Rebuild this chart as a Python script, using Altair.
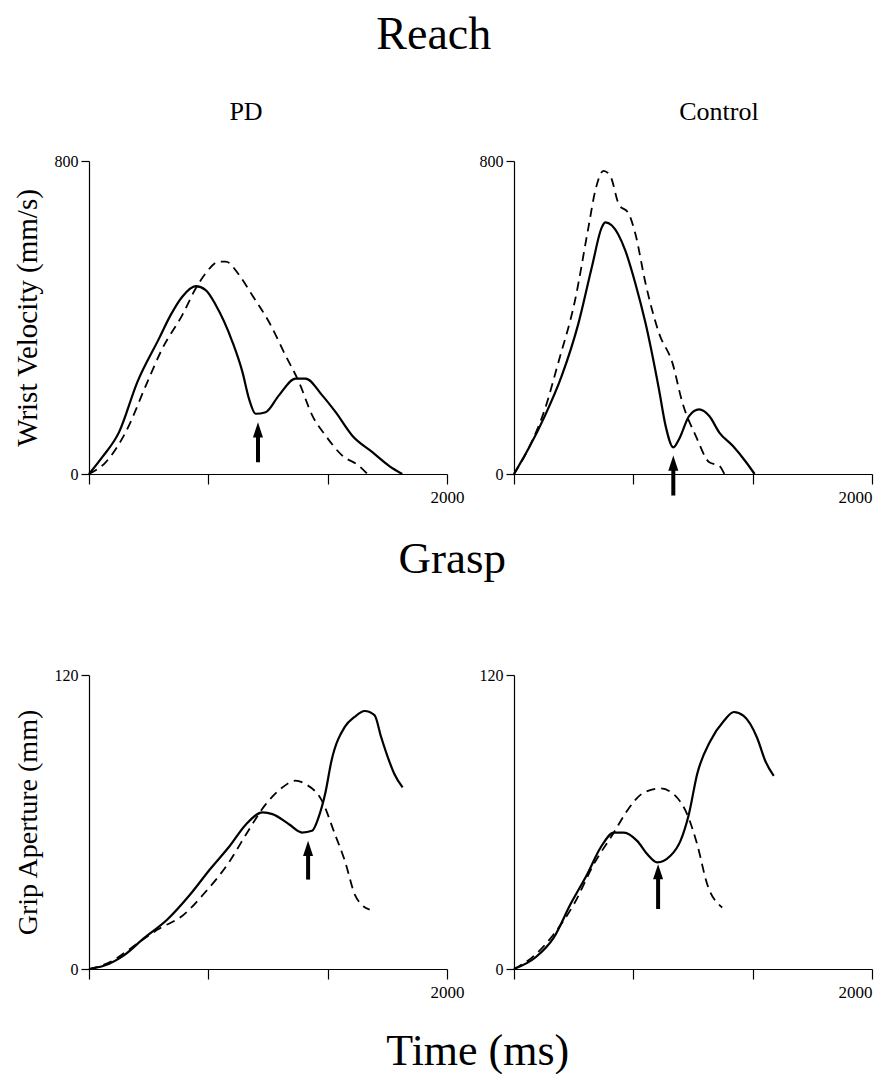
import altair as alt
import pandas as pd

# ---------------- data ----------------
# Reach, PD
pd_reach_solid_t = [0, 74, 168, 270, 391, 456, 521, 596, 652, 708, 801, 857, 894, 931, 987, 1061, 1154, 1210, 1303, 1378, 1471, 1583, 1676, 1750]
pd_reach_solid_v = [0, 43, 107, 235, 346, 406, 453, 480, 470, 432, 338, 261, 192, 154, 158, 201, 244, 244, 201, 158, 98, 56, 21, 0]
pd_reach_dash_t = [0, 93, 205, 326, 410, 521, 596, 652, 726, 764, 838, 912, 1005, 1098, 1173, 1247, 1322, 1415, 1508, 1555]
pd_reach_dash_v = [0, 30, 107, 235, 321, 406, 474, 513, 543, 543, 509, 457, 389, 303, 235, 150, 98, 47, 21, 0]

# Reach, Control
ct_reach_solid_t = [0, 79, 172, 266, 360, 435, 491, 510, 547, 622, 678, 735, 810, 847, 890, 922, 978, 1034, 1091, 1147, 1222, 1297, 1344]
ct_reach_solid_v = [0, 63, 148, 250, 385, 529, 631, 643, 635, 571, 487, 385, 216, 123, 68, 89, 148, 165, 148, 106, 72, 30, 0]
ct_reach_dash_t = [0, 97, 172, 247, 341, 416, 454, 500, 538, 585, 641, 678, 735, 810, 885, 941, 1016, 1091, 1147, 1175]
ct_reach_dash_v = [0, 80, 165, 284, 444, 631, 724, 775, 762, 690, 665, 614, 487, 360, 284, 182, 97, 30, 21, 0]

# Grasp, PD
pd_grasp_solid_t = [0, 86, 197, 307, 436, 565, 675, 786, 878, 970, 1025, 1117, 1190, 1246, 1282, 1319, 1355, 1429, 1484, 1540, 1595, 1632, 1669, 1706, 1752]
pd_grasp_solid_v = [0, 1.4, 5.7, 12.6, 20.1, 30.4, 40.6, 50.2, 59.1, 63.9, 63.2, 59.1, 55.7, 56.4, 61.8, 71.4, 85.1, 98.8, 102.9, 105.3, 103.6, 94.7, 86.5, 79.6, 74.1]
pd_grasp_dash_t = [0, 123, 234, 381, 530, 638, 786, 878, 988, 1080, 1154, 1209, 1301, 1374, 1430, 1485, 1522, 1568]
pd_grasp_dash_v = [0, 3.0, 8.5, 16.0, 22.2, 30.4, 44.0, 55.0, 67.3, 74.1, 76.9, 75.5, 68.7, 55.0, 44.0, 30.4, 26.3, 24.2]

# Grasp, Control
ct_grasp_solid_t = [0, 121, 223, 316, 409, 484, 558, 614, 688, 744, 800, 874, 930, 977, 1023, 1097, 1172, 1228, 1283, 1358, 1404, 1451]
ct_grasp_solid_v = [0, 4.8, 12.9, 26.5, 38.7, 49.6, 55.7, 55.7, 52.3, 46.9, 43.5, 46.2, 52.3, 63.2, 79.5, 93.1, 101.2, 104.9, 103.3, 94.4, 84.9, 78.8]
ct_grasp_dash_t = [0, 112, 223, 335, 446, 558, 632, 725, 818, 893, 967, 1023, 1079, 1163]
ct_grasp_dash_v = [0, 5.4, 14.3, 26.5, 42.8, 55.7, 64.6, 72.0, 73.7, 71.3, 63.2, 51.0, 34.7, 25.1]

# arrows: time, tip value, base value (per panel: PD reach, Control reach, PD grasp, Control grasp)
arrow_t = [944, 890, 1224, 805]
arrow_tip = [132, 47, 52.3, 42.8]
arrow_base = [30, -55, 36.5, 24.5]

x_ticks = [0, 666.67, 1333.33, 2000]

FONT = "Liberation Serif"
ARROW = "M0,0 L0.6,1.8 L-0.6,1.8 Z"


def panel(st, sv, dt, dv, k, ymax, h, ytitle, ytitle_size, right, title=None, title_dx=0):
    solid = pd.DataFrame({"t": st, "v": sv})
    dash = pd.DataFrame({"t": dt, "v": dv})
    arr = pd.DataFrame({"t": [arrow_t[k]], "tip": [arrow_tip[k]], "base": [arrow_base[k]]})

    xs = alt.Scale(domain=[0, 2000], nice=False, zero=False)
    ys = alt.Scale(domain=[0, ymax], nice=False, zero=False)
    xaxis = alt.Axis(values=x_ticks, labelExpr="datum.value == 2000 ? '2000' : ''",
                     tickSize=10, labelPadding=5, labelFlush=right, labelOverlap=False,
                     grid=False, labelFont=FONT, labelFontSize=17, labelColor="black",
                     domainColor="black", tickColor="black", domainWidth=1.2, tickWidth=1.2)
    yargs = dict(values=[0, ymax], tickSize=8, labelPadding=3, labelFlush=False,
                 labelOverlap=False, grid=False, labelFont=FONT, labelFontSize=16,
                 labelColor="black", domainColor="black", tickColor="black",
                 domainWidth=1.2, tickWidth=1.2)
    if ytitle:
        yargs.update(titleFont=FONT, titleFontSize=ytitle_size, titleFontWeight="normal",
                     titleColor="black", titlePadding=12, titleLimit=1000)
    yaxis = alt.Axis(**yargs)
    ttl = ytitle if ytitle else None

    X = alt.X("t:Q", scale=xs, axis=xaxis, title=None)
    line_s = alt.Chart(solid).mark_line(color="black", strokeWidth=2.2, interpolate="monotone").encode(
        x=X, y=alt.Y("v:Q", scale=ys, axis=yaxis, title=ttl))
    line_d = alt.Chart(dash).mark_line(color="black", strokeWidth=1.8, strokeDash=[9, 6],
                                       interpolate="monotone").encode(
        x=X, y=alt.Y("v:Q", scale=ys, axis=yaxis, title=ttl))
    shaft = alt.Chart(arr).mark_rule(color="black", strokeWidth=4, y2Offset=8).encode(
        x=X, y=alt.Y("base:Q", scale=ys, axis=yaxis, title=ttl), y2="tip:Q")
    head = alt.Chart(arr).mark_point(shape=ARROW, filled=True, size=280, color="black",
                                     opacity=1, strokeWidth=0).encode(
        x=X, y=alt.Y("tip:Q", scale=ys, axis=yaxis, title=ttl))
    ch = alt.layer(line_s, line_d, shaft, head)
    props = dict(width=358, height=h)
    if title:
        props["title"] = alt.TitleParams(title, font=FONT, fontSize=26, fontWeight="normal",
                                         color="black", anchor="middle", frame="group",
                                         offset=28, dx=title_dx)
    return ch.properties(**props)


tl = panel(pd_reach_solid_t, pd_reach_solid_v, pd_reach_dash_t, pd_reach_dash_v, 0, 800, 313,
           "Wrist Velocity (mm/s)", 29, False, "PD", -22)
tr = panel(ct_reach_solid_t, ct_reach_solid_v, ct_reach_dash_t, ct_reach_dash_v, 1, 800, 313,
           None, 0, True, "Control", 26)
bl = panel(pd_grasp_solid_t, pd_grasp_solid_v, pd_grasp_dash_t, pd_grasp_dash_v, 2, 120, 294,
           "Grip Aperture (mm)", 28, False)
br = panel(ct_grasp_solid_t, ct_grasp_solid_v, ct_grasp_dash_t, ct_grasp_dash_v, 3, 120, 294,
           None, 0, True)

row1 = alt.hconcat(tl, tr, spacing=15).properties(
    title=alt.TitleParams("Reach", font=FONT, fontSize=46, fontWeight="normal", color="black",
                          anchor="middle", offset=40, dx=-9))
row2 = alt.hconcat(bl, br, spacing=15).properties(
    title=alt.TitleParams("Grasp", font=FONT, fontSize=45, fontWeight="normal", color="black",
                          anchor="middle", offset=85, dx=9))

chart = alt.vconcat(row1, row2, spacing=32).properties(
    title=alt.TitleParams("Time (ms)", font=FONT, fontSize=44, fontWeight="normal", color="black",
                          anchor="middle", orient="bottom", offset=30, dx=35),
    padding={"left": 4, "top": 4, "right": 4, "bottom": 0},
).configure_view(stroke=None)

chart.save("out.html", embed_options={"renderer": "svg", "actions": False})
